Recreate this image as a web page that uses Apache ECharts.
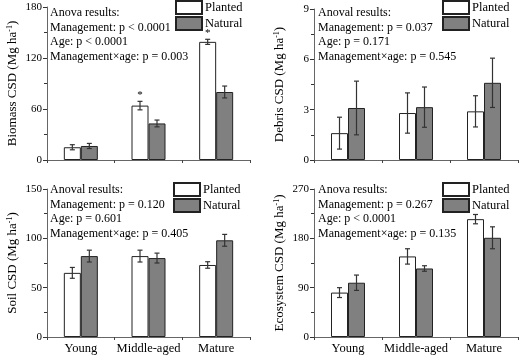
<!DOCTYPE html>
<html>
<head>
<meta charset="utf-8">
<style>
  html, body { margin: 0; padding: 0; background: #fff; }
  #chart { width: 519px; height: 355px; }
</style>
<script src="https://cdn.jsdelivr.net/npm/echarts@6/dist/echarts.min.js"></script>
</head>
<body>
<div id="chart"></div>
<script>
const categories = ['Young', 'Middle-aged', 'Mature']

const biomassPlanted = [15, 64, 139]
const biomassPlantedErr = [3, 5, 3]
const biomassNatural = [16.5, 43, 80]
const biomassNaturalErr = [3, 4, 7]
const biomassSig = ['', '*', '*']

const debrisPlanted = [1.6, 2.8, 2.9]
const debrisPlantedErr = [0.95, 1.2, 0.93]
const debrisNatural = [3.1, 3.15, 4.6]
const debrisNaturalErr = [1.6, 1.2, 1.47]

const soilPlanted = [65, 82, 73]
const soilPlantedErr = [5.5, 6, 3.3]
const soilNatural = [82, 80, 98]
const soilNaturalErr = [6, 5, 6]

const ecoPlanted = [81, 147, 215]
const ecoPlantedErr = [9, 14, 8.5]
const ecoNatural = [99, 125, 181]
const ecoNaturalErr = [14, 5, 20]

const yMax = [180, 9, 150, 270]
const yStep = [60, 3, 50, 90]
const yNames = ['Biomass CSD', 'Debris CSD', 'Soil CSD', 'Ecosystem CSD']

const anova = [
  ['Anova results:', 'Management: p < 0.0001', 'Age: p < 0.0001', 'Management×age: p = 0.003'],
  ['Anoval results:', 'Management: p = 0.037', 'Age: p = 0.171', 'Management×age: p = 0.545'],
  ['Anoval results:', 'Management: p = 0.120', 'Age: p = 0.601', 'Management×age: p = 0.405'],
  ['Anova results:', 'Management: p = 0.267', 'Age: p < 0.0001', 'Management×age: p = 0.135'],
]

const font = 'Liberation Serif'
const axisGray = '#666'

const grids = [
  { left: 47, top: 7, width: 203, height: 153 },
  { left: 314, top: 9, width: 204, height: 151 },
  { left: 47, top: 189, width: 203, height: 149 },
  { left: 314, top: 189, width: 204, height: 149 },
]

const xAxes = []
const yAxes = []
grids.forEach((g, i) => {
  xAxes.push({
    type: 'category',
    gridIndex: i,
    data: categories,
    position: 'bottom',
    axisLine: { lineStyle: { color: axisGray } },
    axisTick: { alignWithLabel: true, length: 4, lineStyle: { color: '#222' } },
    axisLabel: { show: i >= 2, interval: 0, color: '#000', fontFamily: font, fontSize: 12.5, margin: 5 },
    splitLine: { show: false },
  })
  // boundary ticks between categories
  xAxes.push({
    type: 'value',
    gridIndex: i,
    position: 'bottom',
    min: 0,
    max: 3,
    interval: 1,
    axisLine: { show: false },
    axisTick: { length: 3, lineStyle: { color: '#444' } },
    axisLabel: { show: false },
    splitLine: { show: false },
  })
  yAxes.push({
    type: 'value',
    gridIndex: i,
    min: 0,
    max: yMax[i],
    interval: yStep[i],
    name: yNames[i] + ' (Mg ha{sup|-1})',
    nameLocation: 'middle',
    nameGap: 27,
    nameTextStyle: {
      fontFamily: font,
      fontSize: 13,
      color: '#000',
      rich: { sup: { fontFamily: font, fontSize: 8, verticalAlign: 'top', padding: [0, 0, 6, 0] } },
    },
    axisLine: { show: true, lineStyle: { color: axisGray } },
    axisTick: { show: true, length: 4, lineStyle: { color: '#333' } },
    minorTick: { show: true, splitNumber: 2, length: 3, lineStyle: { color: '#333' } },
    axisLabel: { color: '#000', fontFamily: font, fontSize: 11, margin: 5 },
    splitLine: { show: false },
  })
})

function barSeries(name, gi, vals, color) {
  return {
    name,
    type: 'bar',
    xAxisIndex: gi * 2,
    yAxisIndex: gi,
    data: vals,
    barWidth: 17,
    barGap: '0%',
    itemStyle: { color, borderColor: '#222', borderWidth: 1 },
    emphasis: { disabled: true },
  }
}

function errSeries(gi, vals, errs, side, sig) {
  return {
    type: 'custom',
    xAxisIndex: gi * 2,
    yAxisIndex: gi,
    z: 10,
    silent: true,
    data: vals.map((v, i) => [i, v, errs[i]]),
    renderItem: (params, api) => {
      const i = api.value(0)
      const v = api.value(1)
      const e = api.value(2)
      const x = api.coord([i, v])[0] + side * 8.5
      const hi = api.coord([i, v + e])[1]
      const lo = api.coord([i, v - e])[1]
      const style = { stroke: '#333', lineWidth: 1.2 }
      const children = [
        { type: 'line', shape: { x1: x, y1: hi, x2: x, y2: lo }, style },
        { type: 'line', shape: { x1: x - 2.5, y1: hi, x2: x + 2.5, y2: hi }, style },
        { type: 'line', shape: { x1: x - 2.5, y1: lo, x2: x + 2.5, y2: lo }, style },
      ]
      if (sig && sig[params.dataIndex]) {
        children.push({
          type: 'text',
          style: {
            text: sig[params.dataIndex], x, y: hi - 1,
            align: 'center', verticalAlign: 'bottom',
            fontFamily: font, fontSize: 11, fill: '#000',
          },
        })
      }
      return { type: 'group', children }
    },
  }
}

const panels = [
  [biomassPlanted, biomassPlantedErr, biomassNatural, biomassNaturalErr, biomassSig],
  [debrisPlanted, debrisPlantedErr, debrisNatural, debrisNaturalErr, null],
  [soilPlanted, soilPlantedErr, soilNatural, soilNaturalErr, null],
  [ecoPlanted, ecoPlantedErr, ecoNatural, ecoNaturalErr, null],
]

const series = []
panels.forEach((p, gi) => {
  series.push(barSeries('Planted', gi, p[0], '#ffffff'))
  series.push(barSeries('Natural', gi, p[2], '#808080'))
  series.push(errSeries(gi, p[0], p[1], -1, p[4]))
  series.push(errSeries(gi, p[2], p[3], 1, null))
})

const legendPos = [[175, 0], [442, 0], [173, 182], [442, 182]]
const legends = legendPos.map(([l, t]) => ({
  data: ['Planted', 'Natural'],
  orient: 'vertical',
  left: l,
  top: t,
  padding: 0,
  itemGap: 1,
  itemWidth: 26,
  itemHeight: 13,
  icon: 'rect',
  selectedMode: false,
  textStyle: { fontFamily: font, fontSize: 12.5, color: '#000', padding: [0, 0, 0, -2] },
}))

const titlePos = [[50, 6], [318, 6], [50, 183], [318, 183]]
const titles = titlePos.map(([l, t], i) => ({
  text: anova[i].join('\n'),
  left: l,
  top: t,
  padding: 0,
  textStyle: { fontFamily: font, fontSize: 12, fontWeight: 'normal', color: '#000', lineHeight: 14.5 },
}))

const myChart = echarts.init(document.getElementById('chart'), null, { renderer: 'canvas' })
myChart.setOption({
  animation: false,
  backgroundColor: '#fff',
  title: titles,
  legend: legends,
  grid: grids,
  xAxis: xAxes,
  yAxis: yAxes,
  series,
})
</script>
</body>
</html>
